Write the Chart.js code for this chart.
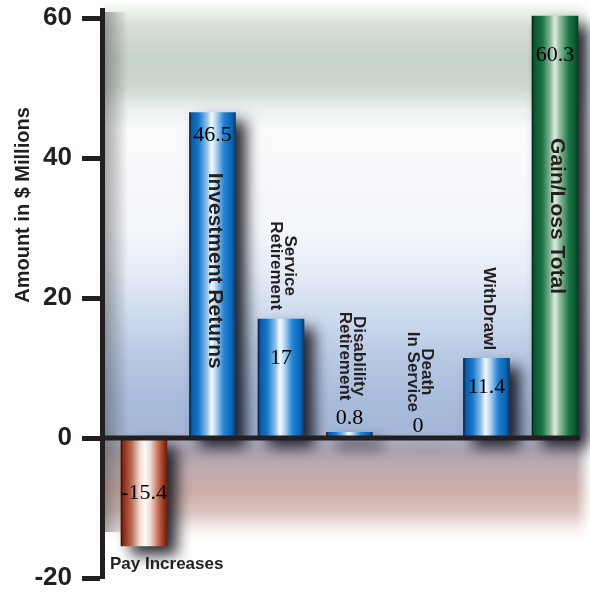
<!DOCTYPE html>
<html>
<head>
<meta charset="utf-8">
<script src="https://cdn.jsdelivr.net/npm/chart.js@4/dist/chart.umd.min.js"></script>
<style>
  html, body { margin: 0; padding: 0; background: #ffffff; }
  #wrap { width: 590px; height: 595px; }
</style>
</head>
<body>
<div id="wrap"><canvas id="chart" width="590" height="595"></canvas></div>
<script>
// Actuarial gain/loss components, in $ millions
const categories = [
  'Pay Increases',
  'Investment Returns',
  'Service Retirement',
  'Disablility Retirement',
  'Death In Service',
  'WithDrawl',
  'Gain/Loss Total'
];
const categoryLines = [
  ['Pay Increases'],
  ['Investment Returns'],
  ['Service', 'Retirement'],
  ['Disablility', 'Retirement'],
  ['Death', 'In Service'],
  ['WithDrawl'],
  ['Gain/Loss Total']
];
const amounts = [-15.4, 46.5, 17, 0.8, 0, 11.4, 60.3];
const yTicks = [-20, 0, 20, 40, 60];
const axisTitle = 'Amount in $ Millions';

// ---- styling ----
const INK = '#231f20';
const SANS = '"Liberation Sans", Arial, Helvetica, sans-serif';
const SERIF = '"Liberation Serif", "Times New Roman", serif';
const BAR_PX = 46;
const barTones = ['red', 'blue', 'blue', 'blue', 'blue', 'blue', 'green'];
const toneStops = {
  blue: [[0, '#111c2c'], [0.05, '#0959a6'], [0.2, '#1677c9'], [0.38, '#8fc0ec'], [0.48, '#f6fbff'],
         [0.58, '#b0d4f3'], [0.75, '#2482d2'], [0.93, '#0a5fb0'], [1, '#093a6c']],
  green: [[0, '#0b2014'], [0.05, '#0a5630'], [0.22, '#197343'], [0.4, '#8ab697'], [0.5, '#e3ede4'],
          [0.6, '#94bd9f'], [0.8, '#1c7645'], [0.94, '#0a5730'], [1, '#073c20']],
  red: [[0, '#361007'], [0.05, '#8a2a16'], [0.22, '#b8644c'], [0.4, '#efd5cb'], [0.52, '#fffaf8'],
        [0.64, '#f0dad2'], [0.82, '#bf6850'], [0.95, '#8c2b17'], [1, '#681f0e']]
};
// where each value and category caption sits relative to its bar
const valueOffset = [55, 23, 39, -14, -12, 29, 39];
const captionPlacement = [
  { mode: 'below', size: 17 },
  { mode: 'inside', start: 60, size: 21 },
  { mode: 'above', gap: 9, size: 17 },
  { mode: 'above', gap: 32, size: 17 },
  { mode: 'above', gap: 26, size: 17 },
  { mode: 'above', gap: 8, size: 17 },
  { mode: 'inside', start: 122, size: 21 }
];

const points = amounts.map((v, i) => ({ x: i, y: v }));

function barFill(ctx) {
  const chart = ctx.chart;
  const xs = chart.scales.x;
  const tone = toneStops[barTones[ctx.dataIndex]];
  if (!xs || !chart.chartArea) return tone[2][1];
  const cx = xs.getPixelForValue(ctx.dataIndex);
  const g = chart.ctx.createLinearGradient(cx - BAR_PX / 2, 0, cx + BAR_PX / 2, 0);
  tone.forEach(([o, c]) => g.addColorStop(o, c));
  return g;
}

// shaded panel behind the plot
const backdrop = {
  id: 'backdrop',
  beforeDraw(chart) {
    const { ctx, width, height } = chart;
    ctx.save();
    ctx.fillStyle = '#ffffff';
    ctx.fillRect(0, 0, width, height);
    const left = 104, right = width, top = 0, bottom = 540;
    const g = ctx.createLinearGradient(0, top, 0, bottom);
    [[0, '#ffffff'], [0.02, '#eef1ee'], [0.05, '#d6ded6'], [0.11, '#c6d3c7'], [0.16, '#cdd8cf'],
     [0.2, '#e9eeee'], [0.24, '#fafbfd'], [0.42, '#f4f7fb'], [0.5, '#e6edf7'], [0.58, '#cfdbee'],
     [0.66, '#b9c9e3'], [0.74, '#a8bcdc'], [0.8, '#a4b7d6'], [0.815, '#a9afc4'], [0.835, '#ada2ae'],
     [0.87, '#c0acb1'], [0.91, '#cdaea8'], [0.95, '#dbc5c1'], [0.98, '#f6f0ef'], [1, '#ffffff']]
      .forEach(([o, c]) => g.addColorStop(o, c));
    ctx.fillStyle = g;
    ctx.fillRect(left, top, right - left, bottom - top);
    // soft shadow along the left edge of the panel
    const s = ctx.createLinearGradient(left, 0, left + 24, 0);
    s.addColorStop(0, 'rgba(60,60,60,0.45)');
    s.addColorStop(1, 'rgba(60,60,60,0)');
    ctx.fillStyle = s;
    ctx.fillRect(left, 12, 24, bottom - 20);
    // fade out at the right edge
    const r = ctx.createLinearGradient(right - 14, 0, right, 0);
    r.addColorStop(0, 'rgba(255,255,255,0)');
    r.addColorStop(1, 'rgba(255,255,255,0.9)');
    ctx.fillStyle = r;
    ctx.fillRect(right - 14, top, 14, bottom - top);
    ctx.restore();
  }
};

// drop shadow under the bars
const barShadow = {
  id: 'barShadow',
  beforeDatasetDraw(chart) {
    const ctx = chart.ctx;
    ctx.save();
    ctx.shadowColor = 'rgba(15,15,25,0.9)';
    ctx.shadowBlur = 14;
    ctx.shadowOffsetX = 10;
    ctx.shadowOffsetY = 9;
  },
  afterDatasetDraw(chart) {
    chart.ctx.restore();
  }
};

// zero line, value labels, category captions and axis title
const overlay = {
  id: 'overlay',
  afterDatasetsDraw(chart) {
    const { ctx, chartArea } = chart;
    const ys = chart.scales.y;
    const bars = chart.getDatasetMeta(0).data;
    const zeroY = ys.getPixelForValue(0);
    const last = bars[bars.length - 1];
    ctx.save();

    ctx.strokeStyle = INK;
    ctx.lineWidth = 5;
    ctx.beginPath();
    ctx.moveTo(chartArea.left, zeroY);
    ctx.lineTo(last.x + last.width / 2 + 2, zeroY);
    ctx.stroke();

    ctx.fillStyle = '#000000';
    ctx.font = '22px ' + SERIF;
    ctx.textAlign = 'center';
    ctx.textBaseline = 'middle';
    bars.forEach((el, i) => {
      const top = Math.min(el.y, el.base);
      ctx.fillText(String(amounts[i]), el.x, top + valueOffset[i]);
    });

    ctx.fillStyle = INK;
    bars.forEach((el, i) => {
      const p = captionPlacement[i];
      const lines = categoryLines[i];
      ctx.font = 'bold ' + p.size + 'px ' + SANS;
      if (p.mode === 'below') {
        ctx.textAlign = 'left';
        ctx.textBaseline = 'middle';
        ctx.fillText(lines.join(' '), el.x - el.width / 2 - 11, Math.max(el.y, el.base) + 19);
        return;
      }
      const len = Math.max(...lines.map(l => ctx.measureText(l).width));
      const top = Math.min(el.y, el.base);
      const cy = p.mode === 'inside' ? top + p.start + len / 2 : top - p.gap - len / 2;
      const lh = 14;
      ctx.save();
      ctx.translate(el.x + 2, cy);
      ctx.rotate(Math.PI / 2);
      ctx.textAlign = 'center';
      ctx.textBaseline = 'middle';
      lines.forEach((l, k) => ctx.fillText(l, 0, (k - (lines.length - 1) / 2) * lh));
      ctx.restore();
    });

    ctx.save();
    ctx.font = 'bold 20px ' + SANS;
    ctx.fillStyle = INK;
    ctx.translate(23, 205);
    ctx.rotate(-Math.PI / 2);
    ctx.textAlign = 'center';
    ctx.textBaseline = 'middle';
    ctx.fillText(axisTitle, 0, 0);
    ctx.restore();

    ctx.restore();
  }
};

new Chart(document.getElementById('chart'), {
  type: 'bar',
  data: {
    labels: categories,
    datasets: [{
      data: points,
      backgroundColor: barFill,
      borderWidth: 0,
      barThickness: BAR_PX
    }]
  },
  options: {
    responsive: false,
    animation: false,
    devicePixelRatio: 1,
    layout: { padding: { top: 10, bottom: 17, left: 0, right: 0 } },
    plugins: { legend: { display: false }, tooltip: { enabled: false } },
    scales: {
      x: { type: 'linear', display: false, offset: false, min: -0.613, max: 6.511 },
      y: {
        min: -20,
        max: 61.15,
        afterBuildTicks: s => { s.ticks = yTicks.map(v => ({ value: v })); },
        afterFit: s => { s.width = 102; },
        ticks: {
          color: INK,
          padding: 10,
          font: { family: SANS, size: 26, weight: 'bold', lineHeight: 0.01 }
        },
        grid: { drawOnChartArea: false, tickLength: 20, tickWidth: 5, tickColor: INK },
        border: { display: true, width: 5, color: INK }
      }
    }
  },
  plugins: [backdrop, barShadow, overlay]
});
</script>
</body>
</html>
